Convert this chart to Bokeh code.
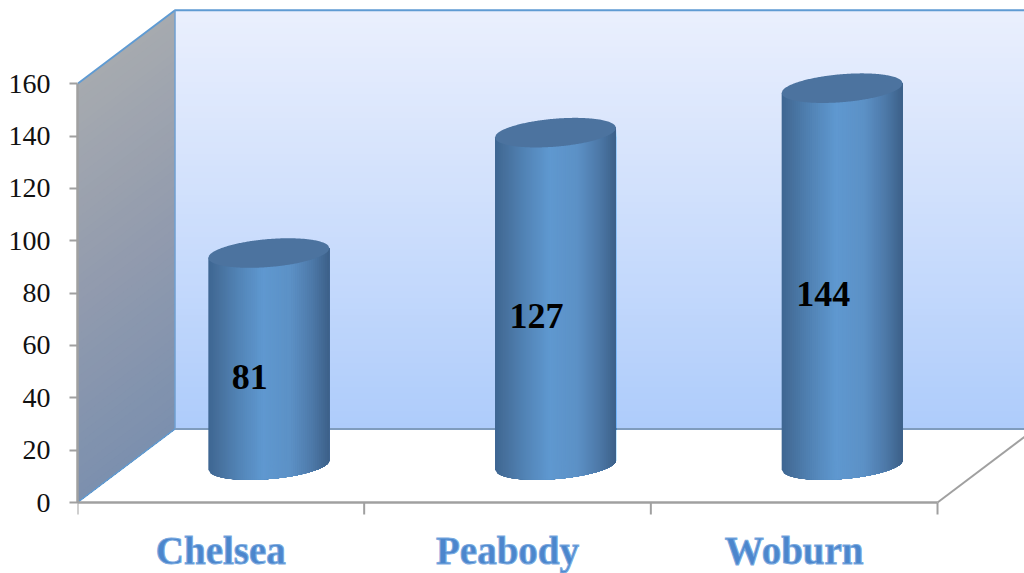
from bokeh.plotting import figure
from bokeh.models import Range1d, LinearAxis, FixedTicker
from bokeh.core.properties import value
from bokeh.embed import file_html
from bokeh.resources import INLINE

categories = ["Chelsea", "Peabody", "Woburn"]
counts = [81, 127, 144]
y_ticks = [0, 20, 40, 60, 80, 100, 120, 140, 160]
x_bounds = [0, 1, 2, 3]

# gradients (position, rgb)
WALL_STOPS = [(0.0, (234, 239, 253)), (0.45, (208, 224, 252)), (1.0, (174, 204, 251))]
SIDE_STOPS = [(0.0, (166, 170, 175)), (0.5, (146, 155, 174)), (1.0, (124, 144, 174))]
BAR_STOPS = [(0.0, (62, 102, 146)), (0.08, (70, 112, 156)), (0.25, (82, 132, 182)),
             (0.45, (95, 152, 208)), (0.68, (92, 145, 198)), (0.85, (78, 122, 170)),
             (1.0, (60, 96, 136))]

PX_X = 286.67          # pixels per category
PX_Y = 2.617           # pixels per count
FRAME_W, FRAME_H = 947, 573
BELOW = 71 / PX_Y      # room under the floor, in counts
DX, DY = 97.5 / PX_X, 73.5 / PX_Y   # depth of the box


def mix(stops, t):
    for (a, ca), (b, cb) in zip(stops, stops[1:]):
        if t <= b:
            f = (t - a) / (b - a)
            return "#%02x%02x%02x" % tuple(round(p + (q - p) * f) for p, q in zip(ca, cb))
    return "#%02x%02x%02x" % stops[-1][1]


p = figure(width=1024, height=573, frame_width=FRAME_W, frame_height=FRAME_H,
           output_backend="svg", toolbar_location=None,
           x_range=Range1d(0, FRAME_W / PX_X), y_range=Range1d(-BELOW, FRAME_H / PX_Y - BELOW),
           min_border_left=77, min_border_right=0, min_border_top=0, min_border_bottom=0,
           x_axis_location=None, y_axis_location=None)
p.outline_line_color = None
p.grid.visible = False
p.background_fill_color = "white"
p.border_fill_color = "white"

x_end = FRAME_W / PX_X
top = 160 + DY

# back wall
N = 70
p.quad(left=[DX] * N, right=[x_end] * N,
       top=[top - i * 160 / N for i in range(N)], bottom=[DY] * N,
       fill_color=[mix(WALL_STOPS, i / (N - 1)) for i in range(N)], line_color=None)

# side wall
M = 50
sx, sy = [], []
for i in range(M):
    d = i * 160 / M
    sx.append([0, DX, DX, 0])
    sy.append([160 - d, top - d, DY, 0])
p.patches(sx, sy, fill_color=[mix(SIDE_STOPS, i / (M - 1)) for i in range(M)], line_color=None)

# box edges
blue_edge = "#5f9bd3"
axis_grey = "#a0a0a0"
p.line([0, DX, x_end], [160, top, top], line_color=blue_edge, line_width=2)
p.line([DX, DX], [top, DY], line_color="#6f9fd0", line_width=1.5)
p.line([0, DX], [0, DY], line_color=blue_edge, line_width=1.5)
p.line([DX, x_end], [DY, DY], line_color="#7f9cbd", line_width=2)
p.line([x_bounds[-1], x_bounds[-1] + DX], [0, DY], line_color=axis_grey, line_width=2)
p.line([x_bounds[0], x_bounds[-1]], [0, 0], line_color=axis_grey, line_width=2.5)
p.segment(x0=x_bounds, y0=[0] * 4, x1=x_bounds, y1=[-12 / PX_Y] * 4,
          line_color=axis_grey, line_width=2)

# cylinders
A = 60.5 / PX_X        # half width
SHEAR = 4.8 / PX_Y
B = 14.0 / PX_Y
STEPS = 48
STRIPS = 60
BAR_DEPTH = DY * 0.51
for i, v in enumerate(counts):
    cx = i + 0.5 + DX / 2 - 0.75 / PX_X
    base = BAR_DEPTH
    top_c = v + BAR_DEPTH
    xs, ys, cols = [], [], []
    for s in range(STRIPS):
        u0 = s / STRIPS
        px, py = [], []
        for k in range(STEPS + 1):
            c = -1 + 2 * (u0 + (1 - u0) * k / STEPS)
            px.append(cx + A * c)
            py.append(base + SHEAR * c - B * max(0.0, 1 - c * c) ** 0.5)
        c0 = -1 + 2 * u0
        xs.append(px + [cx + A, cx + A * c0])
        ys.append(py + [top_c + SHEAR, top_c + SHEAR * c0])
        cols.append(mix(BAR_STOPS, (s + 0.5) / STRIPS))
    p.patches(xs, ys, fill_color=cols, line_color=None)
    cap_x, cap_y = [], []
    for k in range(121):
        c = -1 + 2 * k / 120
        cap_x.append(cx + A * c)
        cap_y.append(top_c + SHEAR * c - B * max(0.0, 1 - c * c) ** 0.5)
    for k in range(120, -1, -1):
        c = -1 + 2 * k / 120
        cap_x.append(cx + A * c)
        cap_y.append(top_c + SHEAR * c + B * max(0.0, 1 - c * c) ** 0.5)
    p.patch(cap_x, cap_y, fill_color="#4c739f", line_color=None)

# value labels
p.text(x=[i + 0.5 for i in range(3)], y=[v / 2 for v in counts], text=[str(v) for v in counts],
       x_offset=29, y_offset=-20, text_align="center", text_baseline="middle",
       text_font=value("Liberation Serif"), text_font_style="bold", text_font_size="36px",
       text_color="black")

# category labels
p.text(x=[i + 0.5 for i in range(3)], y=[0] * 3, text=categories,
       x_offset=0, y_offset=48, text_align="center", text_baseline="middle",
       text_font=value("Liberation Serif"), text_font_style="bold", text_font_size="39px",
       text_color="#4c86cc", text_outline_color="#7aaae0")

left = LinearAxis(ticker=FixedTicker(ticks=y_ticks), bounds=(0, 160))
left.axis_line_color = axis_grey
left.axis_line_width = 2.5
left.major_tick_line_color = axis_grey
left.major_tick_line_width = 2
left.major_tick_in = 0
left.major_tick_out = 8
left.minor_tick_line_color = None
left.major_label_standoff = 19
left.major_label_text_font = "Liberation Serif"
left.major_label_text_font_size = "28px"
left.major_label_text_color = "#111111"
p.add_layout(left, "left")

open("out.html", "w").write(file_html(p, INLINE))
